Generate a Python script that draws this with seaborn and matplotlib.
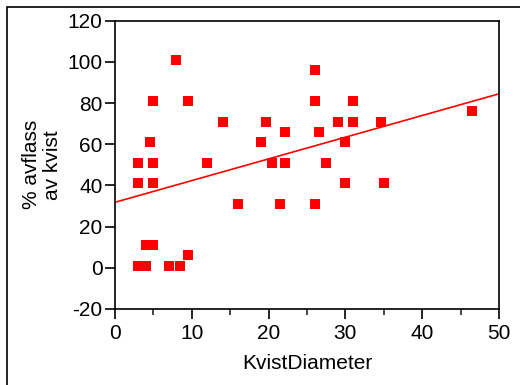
import matplotlib
matplotlib.use("Agg")
import matplotlib.pyplot as plt
import seaborn as sns
import pandas as pd
from matplotlib.patches import Rectangle
from matplotlib.ticker import MultipleLocator

kvist_diameter = [3, 3, 3, 4, 4, 5, 4.6, 5, 5, 5, 7, 7.9, 8.5, 9.5, 9.5, 12, 14, 16,
                  19, 19.6, 20.4, 21.5, 22.1, 22.1, 26, 26, 26, 26.5, 27.5, 29, 30, 30,
                  31, 31, 34.6, 35, 46.5]
avflass_pct = [51, 41, 1, 1, 11, 11, 61, 81, 51, 41, 1, 101, 1, 81, 6, 51, 71, 31,
               61, 71, 51, 31, 66, 51, 96, 81, 31, 66, 51, 71, 61, 41,
               81, 71, 71, 41, 76]
x_ticks = [0, 10, 20, 30, 40, 50]
y_ticks = [-20, 0, 20, 40, 60, 80, 100, 120]

df = pd.DataFrame({"KvistDiameter": kvist_diameter, "avflass": avflass_pct})

sns.set_style("white")
plt.rcParams["font.family"] = ["Liberation Sans", "DejaVu Sans"]
plt.rcParams["axes.unicode_minus"] = False

fig = plt.figure(figsize=(5.2, 3.85), dpi=100)
ax = fig.add_axes([115 / 520, 1 - 309 / 385, (499 - 115) / 520, (309 - 20.7) / 385])
ax.set_xlim(0, 50)
ax.set_ylim(-20, 120)

sns.regplot(data=df, x="KvistDiameter", y="avflass", ax=ax, ci=None, truncate=False,
            marker="s", color="#ff0000",
            scatter_kws=dict(s=45, linewidths=0, alpha=1),
            line_kws=dict(lw=1.2, color="#ff0000"))

ax.set_xlim(0, 50)
ax.set_ylim(-20, 120)
ax.set_xticks(x_ticks)
ax.set_yticks(y_ticks)
ax.xaxis.set_minor_locator(MultipleLocator(5))
ax.tick_params(axis="both", which="major", direction="out", length=7, width=1.2,
               labelsize=15, color="black", labelcolor="black", pad=2)
ax.tick_params(axis="x", which="major", pad=4)
ax.tick_params(axis="x", which="minor", direction="out", length=4, width=1.2, bottom=True)
ax.tick_params(axis="x", which="major", bottom=True)
ax.tick_params(axis="y", which="major", left=True)
for s in ax.spines.values():
    s.set_visible(True)
    s.set_color("black")
    s.set_linewidth(1.2)

ax.set_xlabel("KvistDiameter", fontsize=15, color="black", labelpad=8)
ax.set_ylabel("% avflass\nav kvist", fontsize=15, color="black", labelpad=4,
              multialignment="center", linespacing=1.15)

fig.patches.append(Rectangle((7 / 520, -0.05), 1.1, 1 - 7 / 385 + 0.05,
                             transform=fig.transFigure, fill=False,
                             edgecolor="black", linewidth=1.2))

fig.savefig("out.png", dpi=100)
